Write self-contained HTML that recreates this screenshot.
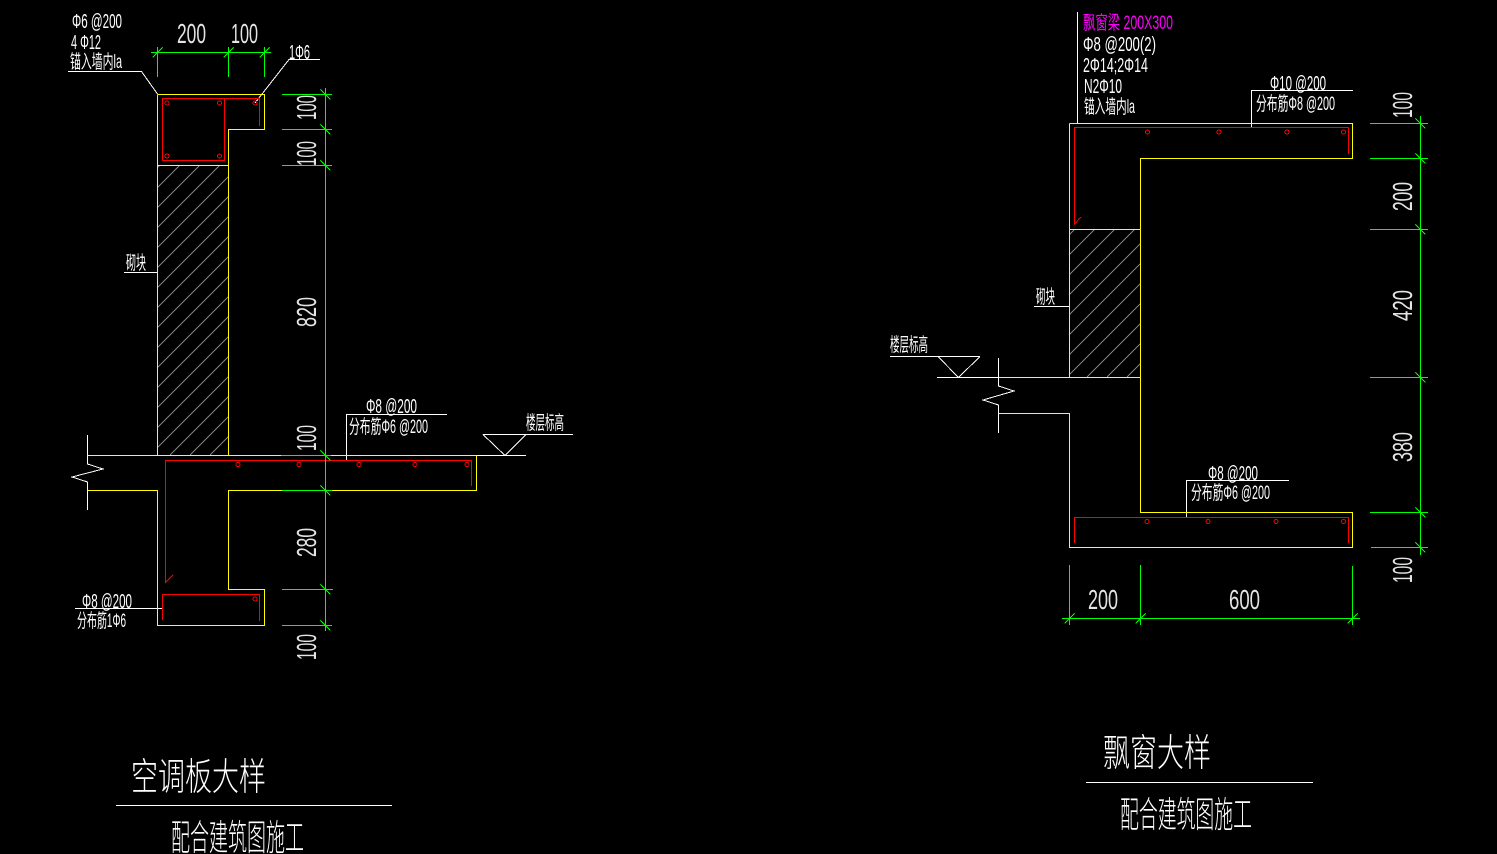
<!DOCTYPE html>
<html><head><meta charset="utf-8"><style>
html,body{margin:0;padding:0;background:#000;width:1497px;height:854px;overflow:hidden}
svg{display:block}
text{font-family:"Liberation Sans","Noto Sans CJK SC",sans-serif;fill:#fff}
.cjk{font-family:"Noto Sans CJK SC","WenQuanYi Zen Hei",sans-serif}
.l{font-size:20px}.m{font-size:19px}.d{font-size:28px;fill:#e4e4e4}
</style></head><body>
<svg width="1497" height="854" viewBox="0 0 1497 854" xmlns="http://www.w3.org/2000/svg">
<rect width="1497" height="854" fill="#000"/>
<defs>
<clipPath id="c1"><rect x="158" y="166" width="70" height="289"/></clipPath>
<clipPath id="c2"><rect x="1070" y="230" width="70" height="147"/></clipPath>
</defs>
<g fill="none" shape-rendering="crispEdges">
<path stroke="#808080" stroke-width="1" clip-path="url(#c1)" d="M160 165L-130 455M180 165L-110 455M200 165L-90 455M220 165L-70 455M240 165L-50 455M260 165L-30 455M280 165L-10 455M300 165L10 455M320 165L30 455M340 165L50 455M360 165L70 455M380 165L90 455M400 165L110 455M420 165L130 455M440 165L150 455M460 165L170 455M480 165L190 455M500 165L210 455"/>
<path stroke="#808080" stroke-width="1" clip-path="url(#c2)" d="M1074 230L927 377M1094 230L947 377M1114 230L967 377M1134 230L987 377M1154 230L1007 377M1174 230L1027 377M1194 230L1047 377M1214 230L1067 377M1234 230L1087 377M1254 230L1107 377M1274 230L1127 377"/>
<!-- white lines -->
<g stroke="#fff" stroke-width="1">
<path d="M68 71.5H141.5L157.5 94M320 59.5H289L255 103"/>
<path d="M124 272.5H157.5M346.5 460V414.5H447M483 434.5H573M483 434.5L505 455.5L526 434.5M476 455.5H526"/>
<path d="M87.5 435V464L103 469L72 477L87.5 482V510"/>
<path d="M75 608.5H162"/>
<path d="M116 805.5H392"/>
<path d="M1077.5 12V123.5M1251.5 127V90.5H1353M1186.5 517V480.5H1289"/>
<path d="M1034 306.5H1069.5M890 356.5H980M938 356.5L958.5 377.5L980 356.5M937 377.5H998.5"/>
<path d="M998.5 358V386L1014 391L983 400L998.5 405V433"/>
<path d="M1086 782.5H1313"/>
</g>
<!-- yellow outlines -->
<g stroke="#ffff00" stroke-width="1">
<path d="M157.5 94.5H264.5V129.5H228.5V455.5M157.5 94.5V455.5M157.5 165.5H228.5"/>
<path d="M87.5 455.5H476.5V490.5H228.5V589.5H264.5V625.5H157.5V490.5H87.5"/>
<path d="M1069.5 123.5H1352.5V158.5H1140.5V512.5H1352.5V547.5H1069.5V413.5H998.5M1069.5 123.5V377.5M1069.5 229.5H1140.5M998.5 377.5H1140.5"/>
</g>
<!-- red rebar -->
<g stroke="#ff0000" stroke-width="1">
<path d="M162.5 98.5H224.5V160.5H162.5ZM224.5 98.5H259.5V126"/>
<path d="M173 575L165.5 582.5V460.5H471.5V486"/>
<path d="M162.5 620V594.5H259.5V621"/>
<path d="M1081 217L1074.5 224V127.5H1348.5V154"/>
<path d="M1074.5 543V517.5H1348.5V543"/>
<circle cx="167" cy="103" r="2"/><circle cx="219.5" cy="103" r="2"/><circle cx="255" cy="103" r="2"/><circle cx="167" cy="156" r="2"/><circle cx="219.5" cy="156" r="2"/>
<circle cx="238" cy="464.5" r="2"/><circle cx="299" cy="464.5" r="2"/><circle cx="359" cy="464.5" r="2"/><circle cx="415" cy="464.5" r="2"/><circle cx="467" cy="464.5" r="2"/>
<circle cx="255" cy="599" r="2"/>
<circle cx="1147.5" cy="132" r="2"/><circle cx="1219" cy="132" r="2"/><circle cx="1287" cy="132" r="2"/><circle cx="1343.5" cy="132" r="2"/>
<circle cx="1147" cy="521.5" r="2"/><circle cx="1208" cy="521.5" r="2"/><circle cx="1276" cy="521.5" r="2"/><circle cx="1343.5" cy="521.5" r="2"/>
</g>
<!-- green dimensions -->
<g stroke="#00ff00" stroke-width="1">
<path d="M151 52.5H271M157.5 47V77M228.5 47V77M264.5 47V77"/>
<path d="M152.5 57.5L162.5 47.5M223.5 57.5L233.5 47.5M259.5 57.5L269.5 47.5"/>
<path d="M325.5 88V631"/>
<path d="M282 94.5H332M282 129.5H332M282 165.5H332M281 455.5H331M282 490.5H332M282 589.5H333M282 625.5H332"/>
<path d="M320.5 89.5L330.5 99.5M320.5 124.5L330.5 134.5M320.5 160.5L330.5 170.5M320.5 450.5L330.5 460.5M320.5 485.5L330.5 495.5M320.5 584.5L330.5 594.5M320.5 620.5L330.5 630.5"/>
<path d="M1062 618.5H1360M1069.5 565V625M1140.5 565V625M1352.5 566V625"/>
<path d="M1064.5 623.5L1074.5 613.5M1135.5 623.5L1145.5 613.5M1347.5 623.5L1357.5 613.5"/>
<path d="M1420.5 116V555"/>
<path d="M1370 123.5H1428M1370 158.5H1428M1370 229.5H1428M1370 377.5H1428M1370 512.5H1428M1371 547.5H1428"/>
<path d="M1415.5 118.5L1425.5 128.5M1415.5 153.5L1425.5 163.5M1415.5 224.5L1425.5 234.5M1415.5 372.5L1425.5 382.5M1415.5 507.5L1425.5 517.5M1415.5 542.5L1425.5 552.5"/>
</g>
</g>
<!-- dimension text -->
<text class="d" x="177" y="43" textLength="29" lengthAdjust="spacingAndGlyphs">200</text>
<text class="d" x="231" y="43" textLength="27" lengthAdjust="spacingAndGlyphs">100</text>
<text class="d" transform="translate(316,120) rotate(-90)" textLength="25" lengthAdjust="spacingAndGlyphs">100</text>
<text class="d" transform="translate(316,166) rotate(-90)" textLength="25" lengthAdjust="spacingAndGlyphs">100</text>
<text class="d" transform="translate(316,327) rotate(-90)" textLength="30" lengthAdjust="spacingAndGlyphs">820</text>
<text class="d" transform="translate(316,451) rotate(-90)" textLength="26" lengthAdjust="spacingAndGlyphs">100</text>
<text class="d" transform="translate(316,557) rotate(-90)" textLength="29" lengthAdjust="spacingAndGlyphs">280</text>
<text class="d" transform="translate(316,660) rotate(-90)" textLength="26" lengthAdjust="spacingAndGlyphs">100</text>
<text class="d" x="1088" y="609" textLength="30" lengthAdjust="spacingAndGlyphs">200</text>
<text class="d" x="1229" y="609" textLength="31" lengthAdjust="spacingAndGlyphs">600</text>
<text class="d" transform="translate(1412,118) rotate(-90)" textLength="26" lengthAdjust="spacingAndGlyphs">100</text>
<text class="d" transform="translate(1412,211) rotate(-90)" textLength="29" lengthAdjust="spacingAndGlyphs">200</text>
<text class="d" transform="translate(1412,321) rotate(-90)" textLength="31" lengthAdjust="spacingAndGlyphs">420</text>
<text class="d" transform="translate(1412,462) rotate(-90)" textLength="30" lengthAdjust="spacingAndGlyphs">380</text>
<text class="d" transform="translate(1412,583) rotate(-90)" textLength="26" lengthAdjust="spacingAndGlyphs">100</text>
<!-- labels left -->
<text class="l" x="72" y="28" textLength="50" lengthAdjust="spacingAndGlyphs">Φ6 @200</text>
<text class="l" x="71" y="49" textLength="30" lengthAdjust="spacingAndGlyphs">4 Φ12</text>
<text class="m" x="70" y="68" textLength="52" lengthAdjust="spacingAndGlyphs">锚入墙内la</text>
<text class="l" x="289" y="59" textLength="21" lengthAdjust="spacingAndGlyphs">1Φ6</text>
<text class="m" x="126" y="269" textLength="20" lengthAdjust="spacingAndGlyphs">砌块</text>
<text class="l" x="366" y="413" textLength="51" lengthAdjust="spacingAndGlyphs">Φ8 @200</text>
<text class="m" x="349" y="433" textLength="79" lengthAdjust="spacingAndGlyphs">分布筋Φ6 @200</text>
<text class="m" x="526" y="429" textLength="38" lengthAdjust="spacingAndGlyphs">楼层标高</text>
<text class="l" x="82" y="608" textLength="50" lengthAdjust="spacingAndGlyphs">Φ8 @200</text>
<text class="m" x="77" y="627" textLength="49" lengthAdjust="spacingAndGlyphs">分布筋1Φ6</text>
<text class="cjk" x="131" y="790" font-size="38" textLength="135" lengthAdjust="spacingAndGlyphs" font-weight="300">空调板大样</text>
<text class="cjk" x="171" y="850" font-size="36" textLength="133" lengthAdjust="spacingAndGlyphs" font-weight="300">配合建筑图施工</text>
<!-- labels right -->
<text class="m" x="1083" y="29" textLength="90" lengthAdjust="spacingAndGlyphs" style="fill:#ff00ff">飘窗梁 200X300</text>
<text class="l" x="1083" y="51" textLength="73" lengthAdjust="spacingAndGlyphs">Φ8 @200(2)</text>
<text class="l" x="1083" y="72" textLength="65" lengthAdjust="spacingAndGlyphs">2Φ14;2Φ14</text>
<text class="l" x="1084" y="93" textLength="38" lengthAdjust="spacingAndGlyphs">N2Φ10</text>
<text class="m" x="1084" y="113" textLength="51" lengthAdjust="spacingAndGlyphs">锚入墙内la</text>
<text class="l" x="1270" y="90" textLength="56" lengthAdjust="spacingAndGlyphs">Φ10 @200</text>
<text class="m" x="1256" y="110" textLength="79" lengthAdjust="spacingAndGlyphs">分布筋Φ8 @200</text>
<text class="l" x="1208" y="480" textLength="50" lengthAdjust="spacingAndGlyphs">Φ8 @200</text>
<text class="m" x="1191" y="499" textLength="79" lengthAdjust="spacingAndGlyphs">分布筋Φ6 @200</text>
<text class="m" x="1036" y="303" textLength="19" lengthAdjust="spacingAndGlyphs">砌块</text>
<text class="m" x="890" y="351" textLength="38" lengthAdjust="spacingAndGlyphs">楼层标高</text>
<text class="cjk" x="1103" y="766" font-size="38" textLength="108" lengthAdjust="spacingAndGlyphs" font-weight="300">飘窗大样</text>
<text class="cjk" x="1120" y="827" font-size="36" textLength="132" lengthAdjust="spacingAndGlyphs" font-weight="300">配合建筑图施工</text>
</svg>
</body></html>
